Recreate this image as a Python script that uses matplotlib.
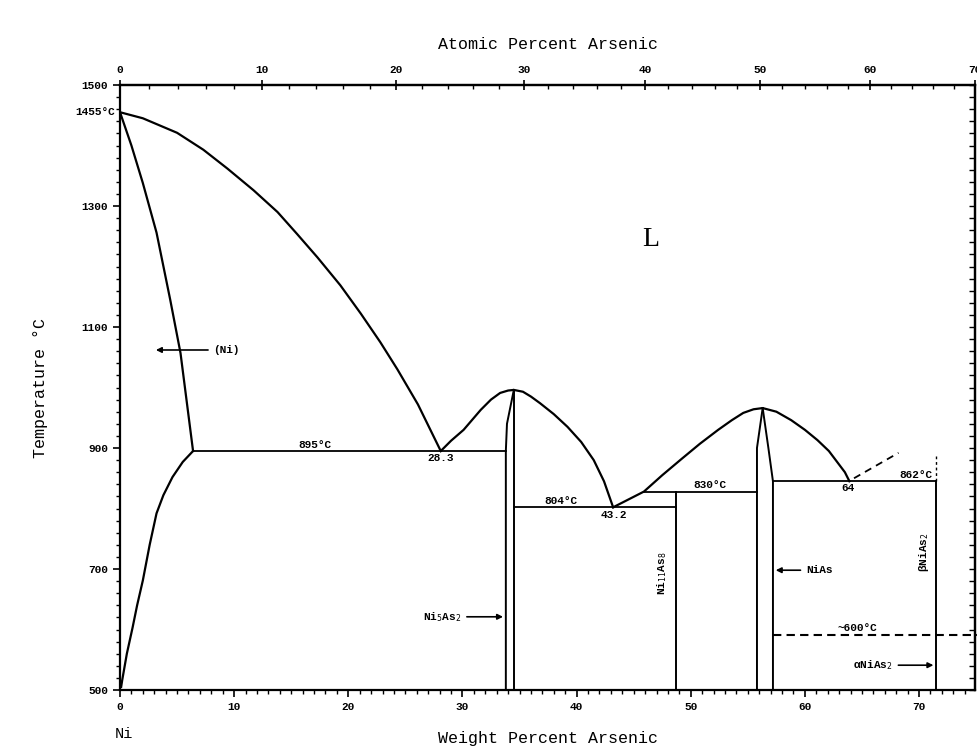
import matplotlib
matplotlib.use('Agg')
import matplotlib.pyplot as plt
from matplotlib.ticker import FixedLocator, MultipleLocator
import numpy as np

plt.rcParams['font.family'] = ['Liberation Mono', 'DejaVu Sans Mono']

# (Ni) solidus and solvus
solidus_x = [0, 1.0, 2.0, 3.2, 4.4, 5.3, 6.4]
solidus_T = [1455, 1400, 1338, 1256, 1145, 1057, 895]
solvus_x = [6.4, 5.5, 4.6, 3.8, 3.2, 2.6, 2.0, 1.5, 1.1, 0.6, 0.2, 0.1]
solvus_T = [895, 877, 852, 822, 792, 740, 681, 640, 603, 560, 517, 505]

# liquidus Ni side
liq1_x = [0, 2.0, 5.0, 7.3, 9.4, 11.7, 13.8, 15.5, 17.3, 19.3, 21.1, 22.8, 24.3, 26.1, 28.1]
liq1_T = [1455, 1445, 1421, 1393, 1362, 1326, 1290, 1254, 1215, 1169, 1122, 1075, 1030, 972, 895]

# Ni5As2 dome
liq2_x = [28.1, 29.0, 30.1, 31.6, 32.5, 33.3, 34.0, 34.5, 35.3, 36.0, 36.8, 38.0, 39.2, 40.4, 41.5, 42.4, 43.2]
liq2_T = [895, 912, 930, 963, 980, 991, 995, 996, 993, 985, 974, 956, 935, 910, 880, 845, 802]

# NiAs dome
liq3_x = [43.2, 45.9, 47.5, 49.2, 50.8, 52.4, 53.6, 54.6, 55.5, 56.3, 57.5, 58.8, 60.0, 61.1, 62.1, 62.9, 63.5, 63.9]
liq3_T = [802, 828, 855, 882, 907, 930, 946, 958, 964, 966, 960, 946, 930, 913, 895, 875, 860, 845]

# single-phase boundaries
ni5as2_left_x = [34.5, 33.9, 33.8, 33.8]
ni5as2_left_T = [996, 940, 895, 500]
ni5as2_right_x = [34.5, 34.5]
ni5as2_right_T = [996, 500]
nias_left_x = [56.3, 55.8, 55.8]
nias_left_T = [966, 900, 500]
nias_right_x = [56.3, 56.8, 57.2, 57.2]
nias_right_T = [966, 900, 845, 500]
ni11as8_x = [48.7, 48.7]
ni11as8_T = [828, 500]
nias2_x = [71.5, 71.5]
nias2_T = [845, 500]

# invariant lines (x_start, x_end, T)
inv_x0 = [6.4, 34.5, 45.9, 57.2]
inv_x1 = [33.8, 48.7, 55.8, 71.5]
inv_T = [895, 802, 828, 845]

# dashed lines
dash_liq_x = [64.3, 68.2]
dash_liq_T = [850, 892]
dash_nias2_x = [71.5, 71.5]
dash_nias2_T = [845, 890]
trans_x = [57.2, 75.2]
trans_T = [591, 591]

# tick values
wt_ticks = [0, 10, 20, 30, 40, 50, 60, 70]
at_ticks = [0, 10, 20, 30, 40, 50, 60, 70]
T_ticks = [500, 700, 900, 1100, 1300, 1500]

M_NI, M_AS = 58.69, 74.92


def wt2at(w):
    w = np.asarray(w, dtype=float)
    a = w / M_AS
    b = (100 - w) / M_NI
    return 100 * a / np.where(a + b == 0, 1, a + b)


def at2wt(at):
    at = np.asarray(at, dtype=float)
    a = at * M_AS
    b = (100 - at) * M_NI
    return 100 * a / np.where(a + b == 0, 1, a + b)


fig = plt.figure(figsize=(9.77, 7.49), dpi=100)
ax = fig.add_axes([120 / 977, 1 - 690 / 749, 855 / 977, 605 / 749])
k = dict(c='k', lw=1.6, solid_joinstyle='round')

ax.plot(solidus_x, solidus_T, **k)
ax.plot(solvus_x, solvus_T, **k)
ax.plot(liq1_x, liq1_T, **k)
ax.plot(liq2_x, liq2_T, **k)
ax.plot(liq3_x, liq3_T, **k)
for xs, ts in [(ni5as2_left_x, ni5as2_left_T), (ni5as2_right_x, ni5as2_right_T),
               (nias_left_x, nias_left_T), (nias_right_x, nias_right_T),
               (ni11as8_x, ni11as8_T), (nias2_x, nias2_T)]:
    ax.plot(xs, ts, c='k', lw=1.4)
for x0, x1, t in zip(inv_x0, inv_x1, inv_T):
    ax.plot([x0, x1], [t, t], c='k', lw=1.3)
ax.plot(dash_liq_x, dash_liq_T, c='k', lw=1.3, ls=(0, (4, 3)))
ax.plot(dash_nias2_x, dash_nias2_T, c='k', lw=1.0, ls=(0, (2, 2)))
ax.plot(trans_x, trans_T, c='k', lw=1.5, ls=(0, (4, 2.5)), clip_on=False)

ax.set_xlim(0, 74.9)
ax.set_ylim(500, 1500)

fs = 8
tk = dict(fontsize=fs, fontweight='bold')
ax.text(46.5, 1244, 'L', fontsize=20, family='Liberation Serif', ha='center', va='center')
ax.text(-0.4, 1455, '1455°C', ha='right', va='center', clip_on=False, **tk)
ax.text(17.1, 897, '895°C', ha='center', va='bottom', **tk)
ax.text(28.1, 892, '28.3', ha='center', va='top', **tk)
ax.text(38.6, 804, '804°C', ha='center', va='bottom', **tk)
ax.text(43.3, 798, '43.2', ha='center', va='top', **tk)
ax.text(51.7, 830, '830°C', ha='center', va='bottom', **tk)
ax.text(63.8, 842, '64', ha='center', va='top', **tk)
ax.text(71.2, 847, '862°C', ha='right', va='bottom', **tk)
ax.text(64.6, 594, '~600°C', ha='center', va='bottom', **tk)
ax.text(47.5, 693, 'Ni$_{11}$As$_8$', rotation=90, ha='center', va='center', **tk)
ax.text(70.4, 728, 'βNiAs$_2$', rotation=90, ha='center', va='center', **tk)

arr = dict(arrowstyle='-|>', color='k', lw=1.2, mutation_scale=8)
ax.annotate('(Ni)', xy=(2.9, 1062), xytext=(8.2, 1062), va='center', ha='left',
            arrowprops=arr, **tk)
ax.annotate('Ni$_5$As$_2$', xy=(33.8, 621), xytext=(29.9, 621), va='center', ha='right',
            arrowprops=arr, **tk)
ax.annotate('NiAs', xy=(57.2, 698), xytext=(60.1, 698), va='center', ha='left',
            arrowprops=arr, **tk)
ax.annotate('αNiAs$_2$', xy=(71.5, 541), xytext=(67.7, 541), va='center', ha='right',
            arrowprops=arr, **tk)

# axes and ticks
ax.xaxis.set_major_locator(FixedLocator(wt_ticks))
ax.xaxis.set_minor_locator(MultipleLocator(1))
ax.yaxis.set_major_locator(FixedLocator(T_ticks))
ax.yaxis.set_minor_locator(MultipleLocator(20))
ax.tick_params(axis='both', which='major', direction='out', length=5, width=1.2,
               labelsize=fs)
ax.tick_params(axis='both', which='minor', direction='out', length=3, width=1)
for sp in ax.spines.values():
    sp.set_linewidth(1.6)
for lab in ax.get_xticklabels() + ax.get_yticklabels():
    lab.set_fontweight('bold')

# right edge: inward ticks, no labels
ry = ax.secondary_yaxis('right')
ry.yaxis.set_major_locator(FixedLocator(T_ticks))
ry.yaxis.set_minor_locator(MultipleLocator(20))
ry.tick_params(which='both', direction='in', length=4, width=1, labelright=False)
ry.spines['right'].set_linewidth(1.6)

sec = ax.secondary_xaxis('top', functions=(wt2at, at2wt))
sec.xaxis.set_major_locator(FixedLocator(at_ticks))
sec.xaxis.set_minor_locator(MultipleLocator(2))
sec.tick_params(which='major', direction='inout', length=7, width=1.2, labelsize=fs)
sec.tick_params(which='minor', direction='in', length=3, width=1)
for lab in sec.get_xticklabels():
    lab.set_fontweight('bold')
sec.spines['top'].set_linewidth(1.6)
sec.set_xlabel('Atomic Percent Arsenic', fontsize=12, labelpad=12)

ax.set_xlabel('Weight Percent Arsenic', fontsize=12, labelpad=14)
ax.set_ylabel('Temperature °C', fontsize=12, labelpad=24)
ax.text(0.3, -0.072, 'Ni', transform=ax.get_xaxis_transform(), ha='center', va='center',
        fontsize=11, clip_on=False)

fig.savefig('out.png', dpi=100)
